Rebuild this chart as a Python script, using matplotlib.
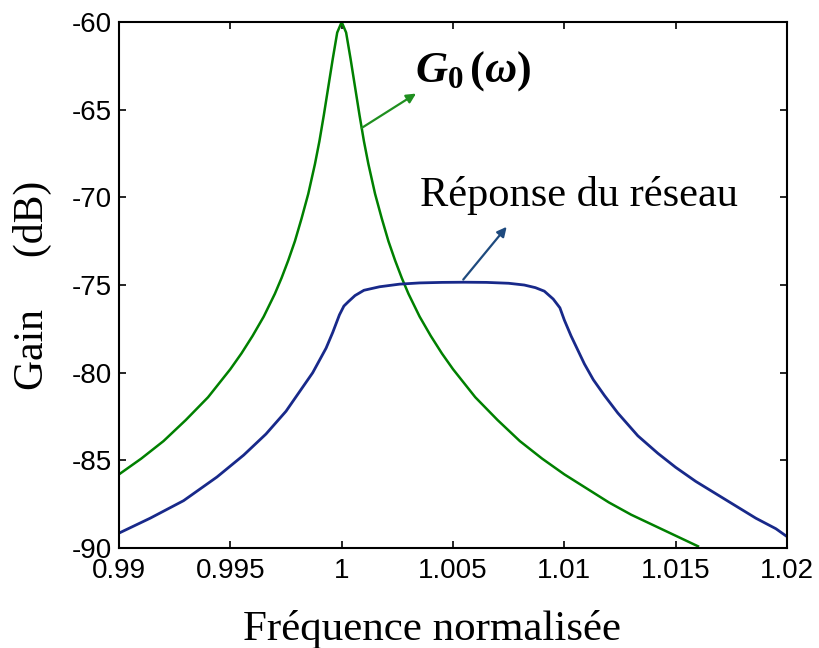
import matplotlib
matplotlib.use('Agg')
import matplotlib.pyplot as plt

plt.rcParams['axes.unicode_minus'] = False
plt.rcParams['mathtext.fontset'] = 'custom'
plt.rcParams['mathtext.it'] = 'Liberation Serif:bold:italic'
plt.rcParams['mathtext.rm'] = 'Liberation Serif:bold'

# gain du résonateur seul G0(w)
freq_g0 = [0.9900, 0.9910, 0.9920, 0.9930, 0.9940, 0.9950, 0.9955, 0.9960,
           0.9965, 0.9970, 0.9973, 0.9976, 0.9979, 0.9982, 0.9985, 0.9988,
           0.9990, 0.9992, 0.9994, 0.9996, 0.9998, 1.0000,
           1.0002, 1.0004, 1.0006, 1.0008, 1.0010, 1.0012, 1.0015, 1.0018,
           1.0021, 1.0024, 1.0027, 1.0030, 1.0035, 1.0040, 1.0045, 1.0050,
           1.0060, 1.0070, 1.0080, 1.0090, 1.0100, 1.0110, 1.0120, 1.0130,
           1.0140, 1.0150, 1.0160]
gain_g0 = [-85.8, -84.9, -83.9, -82.7, -81.4, -79.8, -78.9, -77.9,
           -76.8, -75.5, -74.6, -73.6, -72.5, -71.2, -69.8, -68.1,
           -66.8, -65.3, -63.7, -62.1, -60.6, -60.0,
           -60.6, -62.1, -63.7, -65.3, -66.8, -68.1, -69.8, -71.2,
           -72.5, -73.6, -74.6, -75.5, -76.8, -77.9, -78.9, -79.8,
           -81.4, -82.7, -83.9, -84.9, -85.8, -86.6, -87.4, -88.1,
           -88.7, -89.3, -89.9]

# réponse du réseau
freq_res = [0.9900, 0.9914, 0.9929, 0.9944, 0.9956, 0.9966, 0.9975, 0.9981,
            0.9987, 0.9990, 0.9993, 0.9996, 0.9999, 1.0001, 1.0003, 1.0006,
            1.0010, 1.0017, 1.0026, 1.0035, 1.0045, 1.0055, 1.0065, 1.0075,
            1.0082, 1.0087, 1.0091, 1.0095, 1.0098, 1.0100, 1.0103, 1.0106,
            1.0109, 1.0113, 1.0118, 1.0124, 1.0133, 1.0142, 1.0150, 1.0159,
            1.0168, 1.0177, 1.0186, 1.0195, 1.0200]
gain_res = [-89.15, -88.3, -87.3, -85.95, -84.7, -83.5, -82.2, -81.1,
            -80.0, -79.3, -78.6, -77.7, -76.7, -76.2, -75.95, -75.6,
            -75.3, -75.1, -74.95, -74.88, -74.85, -74.84, -74.85, -74.9,
            -75.0, -75.15, -75.35, -75.8, -76.3, -77.0, -77.9, -78.7,
            -79.5, -80.4, -81.3, -82.3, -83.6, -84.6, -85.4, -86.2,
            -86.9, -87.6, -88.3, -88.9, -89.35]

fig = plt.figure(figsize=(8.2, 6.48), dpi=100)
ax = fig.add_axes([0.1451, 0.1543, 0.8147, 0.8117])

ax.plot(freq_g0, gain_g0, color='#008000', lw=1.8)
ax.plot(freq_res, gain_res, color='#18298a', lw=2.0)

ax.set_xlim(0.99, 1.02)
ax.set_ylim(-90, -60)
ax.set_xticks([0.99, 0.995, 1.0, 1.005, 1.01, 1.015, 1.02])
ax.set_xticklabels(['0.99', '0.995', '1', '1.005', '1.01', '1.015', '1.02'])
ax.set_yticks(range(-90, -59, 5))

for s in ax.spines.values():
    s.set_linewidth(1.5)
ax.tick_params(direction='in', length=5, width=1.2, top=True, right=True,
               labelsize=20)
ax.tick_params(axis='x', pad=7)
ax.tick_params(axis='y', pad=5)
for lab in ax.get_xticklabels() + ax.get_yticklabels():
    lab.set_family('Liberation Sans')

# flèches et légendes
ax.annotate('', xy=(1.00334, -64.08), xytext=(1.0009, -66.04),
            arrowprops=dict(arrowstyle='-|>', color='#1f8f1f', lw=1.6,
                            mutation_scale=14, shrinkA=0, shrinkB=0))
ax.annotate('', xy=(1.00741, -71.68), xytext=(1.00546, -74.69),
            arrowprops=dict(arrowstyle='-|>', color='#1e4a7e', lw=1.6,
                            mutation_scale=14, shrinkA=0, shrinkB=0))
ax.text(1.00329, -63.39, r'$G_{0}\,(\omega)$', fontsize=32, ha='left',
        va='baseline')
ax.text(1.00352, -70.52, 'Réponse du réseau', family='Liberation Serif',
        fontsize=30.5, ha='left', va='baseline')

ax.set_xlabel('Fréquence normalisée', family='Liberation Serif', fontsize=31)
ax.set_ylabel('Gain     (dB)', family='Liberation Serif', fontsize=30)
ax.xaxis.set_label_coords(0.468, -0.118)
ax.yaxis.set_label_coords(-0.10, 0.5)

fig.savefig('out.png', dpi=100)
